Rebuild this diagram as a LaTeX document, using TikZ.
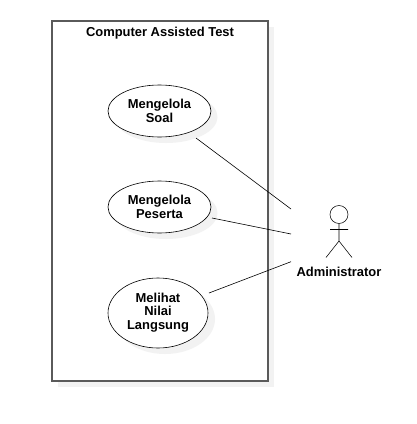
\documentclass[tikz,border=0pt]{standalone}
\usepackage{fontspec}
\setmainfont{Liberation Sans}
\usetikzlibrary{shapes.geometric}
\definecolor{softshadow}{RGB}{242,242,242}
\definecolor{frameline}{RGB}{90,90,90}
\tikzset{
  lbl/.style={font=\bfseries\fontsize{12.95}{13.4}\selectfont,align=center,text=black,inner sep=0pt},
  usecase/.style={ellipse,draw=black,line width=0.6pt,fill=white,minimum width=#1,inner sep=0pt},
  ushadow/.style={ellipse,fill=softshadow,minimum width=#1,inner sep=0pt},
  link/.style={draw=black,line width=0.6pt},
  stick/.style={draw=black,line width=0.55pt}
}
\begin{document}
\begin{tikzpicture}[x=1pt,y=-1pt]
\useasboundingbox (0,0) rectangle (417,424);
% system boundary
\fill[softshadow] (58,27) rectangle (274,387);
\node[draw=frameline,line width=1.2pt,fill=white,minimum width=216pt,minimum height=360pt,inner sep=0pt] (sys) at (160,201) {};
\node[lbl] (title) at (160,33) {Computer Assisted Test};
% use cases
\node[ushadow=103pt,minimum height=52pt] (s1) at (166,117) {};
\node[ushadow=103pt,minimum height=52pt] (s2) at (166,213) {};
\node[ushadow=100pt,minimum height=70pt] (s3) at (165,319) {};
\node[usecase=103pt,minimum height=52pt] (u1) at (159.5,111) {};
\node[lbl] (t1) at (159.5,111) {Mengelola\\Soal};
\node[usecase=103pt,minimum height=52pt] (u2) at (159.5,207) {};
\node[lbl] (t2) at (159.5,207) {Mengelola\\Peserta};
\node[usecase=100pt,minimum height=70pt] (u3) at (158,313) {};
\node[lbl] (t3) at (158,312.5) {Melihat\\Nilai\\Langsung};
% actor
\node[circle,draw=black,line width=0.55pt,minimum size=18pt,inner sep=0pt] (head) at (339,214.5) {};
\coordinate (hip) at (339,241);
\coordinate (armL) at (330,229.5);
\coordinate (armR) at (348,229.5);
\coordinate (legL) at (326,257.5);
\coordinate (legR) at (352,257.5);
\draw[stick] (head.south) -- (hip) (armL) -- (armR) (legL) -- (hip) -- (legR);
\node[lbl] (actor) at (339,271.5) {Administrator};
% connectors
\coordinate (e1) at (291,209);
\coordinate (e2) at (291,234);
\coordinate (e3) at (291,261.7);
\coordinate (f1) at (196,138);
\coordinate (f2) at (212,218);
\coordinate (f3) at (209,293);
\draw[link] (f1) -- (e1);
\draw[link] (f2) -- (e2);
\draw[link] (f3) -- (e3);
\end{tikzpicture}
\end{document}
